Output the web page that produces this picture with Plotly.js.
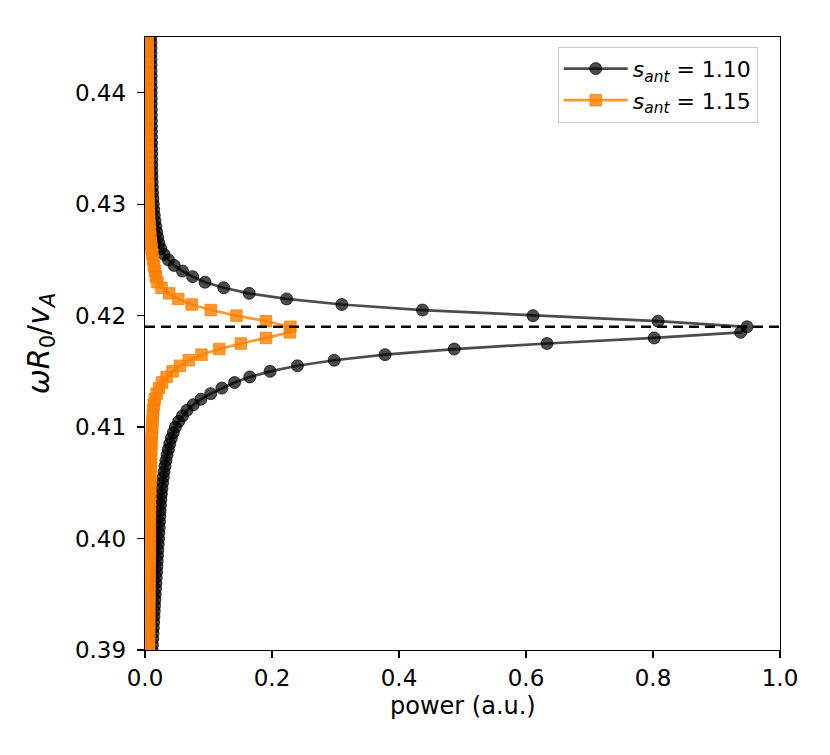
<!DOCTYPE html>
<html>
<head>
<meta charset="utf-8">
<script src="https://cdn.plot.ly/plotly-3.0.1.min.js"></script>
<style>
  html, body { margin: 0; padding: 0; background: #ffffff; }
  #plot { width: 830px; height: 755px; }
</style>
</head>
<body>
<div id="plot"></div>
<script>
// frequency scan, omega R0 / vA
const omega = [
  0.3900, 0.3905, 0.3910, 0.3915, 0.3920, 0.3925, 0.3930, 0.3935, 0.3940, 0.3945,
  0.3950, 0.3955, 0.3960, 0.3965, 0.3970, 0.3975, 0.3980, 0.3985, 0.3990, 0.3995,
  0.4000, 0.4005, 0.4010, 0.4015, 0.4020, 0.4025, 0.4030, 0.4035, 0.4040, 0.4045,
  0.4050, 0.4055, 0.4060, 0.4065, 0.4070, 0.4075, 0.4080, 0.4085, 0.4090, 0.4095,
  0.4100, 0.4105, 0.4110, 0.4115, 0.4120, 0.4125, 0.4130, 0.4135, 0.4140, 0.4145,
  0.4150, 0.4155, 0.4160, 0.4165, 0.4170, 0.4175, 0.4180, 0.4185, 0.4190, 0.4195,
  0.4200, 0.4205, 0.4210, 0.4215, 0.4220, 0.4225, 0.4230, 0.4235, 0.4240, 0.4245,
  0.4250, 0.4255, 0.4260, 0.4265, 0.4270, 0.4275, 0.4280, 0.4285, 0.4290, 0.4295,
  0.4300, 0.4305, 0.4310, 0.4315, 0.4320, 0.4325, 0.4330, 0.4335, 0.4340, 0.4345,
  0.4350, 0.4355, 0.4360, 0.4365, 0.4370, 0.4375, 0.4380, 0.4385, 0.4390, 0.4395,
  0.4400, 0.4405, 0.4410, 0.4415, 0.4420, 0.4425, 0.4430, 0.4435, 0.4440, 0.4445,
  0.4450
];

// power for s_ant = 1.10
const power110 = [
  0.0111, 0.0116, 0.0121, 0.0126, 0.0131, 0.0136, 0.0141, 0.0146, 0.0151, 0.0156,
  0.0161, 0.0166, 0.0171, 0.0177, 0.0182, 0.0187, 0.0192, 0.0197, 0.0202, 0.0208,
  0.0213, 0.0218, 0.0223, 0.0228, 0.0233, 0.0238, 0.0243, 0.0250, 0.0258, 0.0267,
  0.0277, 0.0288, 0.0300, 0.0315, 0.0330, 0.0348, 0.0368, 0.0390, 0.0415, 0.0445,
  0.0480, 0.0530, 0.0590, 0.0660, 0.0760, 0.0880, 0.1035, 0.1210, 0.1410, 0.1650,
  0.1970, 0.2400, 0.2980, 0.3780, 0.4870, 0.6330, 0.8020, 0.9380, 0.9480, 0.8080,
  0.6110, 0.4370, 0.3100, 0.2230, 0.1640, 0.1240, 0.0945, 0.0750, 0.0590, 0.0460,
  0.0370, 0.0300, 0.0250, 0.0220, 0.0200, 0.0184, 0.0170, 0.0157, 0.0146, 0.0137,
  0.0130, 0.0124, 0.0119, 0.0115, 0.0112, 0.0110, 0.0108, 0.0107, 0.0106, 0.0105,
  0.0104, 0.0103, 0.0102, 0.0101, 0.0100, 0.0100, 0.0099, 0.0099, 0.0098, 0.0098,
  0.0097, 0.0097, 0.0096, 0.0096, 0.0095, 0.0095, 0.0094, 0.0094, 0.0093, 0.0093,
  0.0092
];

// power for s_ant = 1.15
const power115 = [
  0.0063, 0.0063, 0.0064, 0.0064, 0.0065, 0.0065, 0.0066, 0.0066, 0.0067, 0.0067,
  0.0068, 0.0068, 0.0069, 0.0069, 0.0070, 0.0070, 0.0071, 0.0071, 0.0072, 0.0072,
  0.0073, 0.0073, 0.0074, 0.0074, 0.0075, 0.0076, 0.0077, 0.0078, 0.0079, 0.0080,
  0.0082, 0.0084, 0.0086, 0.0088, 0.0091, 0.0094, 0.0097, 0.0100, 0.0104, 0.0108,
  0.0112, 0.0117, 0.0122, 0.0128, 0.0137, 0.0155, 0.0184, 0.0220, 0.0270, 0.0340,
  0.0435, 0.0550, 0.0690, 0.0890, 0.1170, 0.1510, 0.1906, 0.2280, 0.2290, 0.1906,
  0.1440, 0.1035, 0.0735, 0.0525, 0.0380, 0.0260, 0.0195, 0.0170, 0.0155, 0.0140,
  0.0127, 0.0115, 0.0103, 0.0093, 0.0085, 0.0078, 0.0072, 0.0067, 0.0062, 0.0058,
  0.0055, 0.0052, 0.0050, 0.0049, 0.0048, 0.0047, 0.0046, 0.0046, 0.0045, 0.0045,
  0.0044, 0.0044, 0.0044, 0.0043, 0.0043, 0.0043, 0.0042, 0.0042, 0.0042, 0.0042,
  0.0041, 0.0041, 0.0041, 0.0041, 0.0041, 0.0040, 0.0040, 0.0040, 0.0040, 0.0040,
  0.0040
];

const seriesNames = [
  "<i>s</i><sub><i>ant</i></sub> = 1.10",
  "<i>s</i><sub><i>ant</i></sub> = 1.15"
];
const xLabel = "power (a.u.)";
const yLabel = "<i>ωR</i><sub>0</sub>/<i>v</i><sub><i>A</i></sub>";
const resonance = 0.419;   // dashed reference line
const xTicks = [0.0, 0.2, 0.4, 0.6, 0.8, 1.0];
const yTicks = [0.39, 0.40, 0.41, 0.42, 0.43, 0.44];

const font = "DejaVu Sans, Liberation Sans, sans-serif";
const black = "rgba(0,0,0,0.7)";
const orange = "rgba(255,127,0,0.8)";

function makeTrace(y, x, name, color, symbol, size){
    return {
        x: x,
        y: y,
        name: name,
        type: "scatter",
        mode: "lines+markers",
        line: {color: color, width: 2.7},
        marker: {color: color, symbol: symbol, size: size,
                 line: {color: color, width: 1}},
        cliponaxis: true
    };
}

var data = [
    makeTrace(omega, power110, seriesNames[0], black, "circle", 12),
    makeTrace(omega, power115, seriesNames[1], orange, "square", 11.5)
];

// axis settings shared by x and y
function axis(range, ticks, fmt){
    return {
        range: range,
        tickvals: ticks,
        ticktext: ticks.map(v => v.toFixed(fmt)),
        ticks: "outside",
        ticklen: 7,
        tickwidth: 1.3,
        tickcolor: "#000",
        showline: true,
        linecolor: "#000",
        linewidth: 1.3,
        mirror: true,
        showgrid: false,
        zeroline: false,
        tickfont: {family: font, size: 23, color: "#000"},
        automargin: false
    };
}

var xaxis = axis([0, 1], xTicks, 1);
var yaxis = axis([0.39, 0.445], yTicks, 2);
yaxis.ticklabelstandoff = 6;
yaxis.title = {text: yLabel, font: {family: font, size: 30, color: "#000"}, standoff: 16};

const layout = {
    width: 830,
    height: 755,
    margin: {l: 145, r: 50, t: 37, b: 105},
    paper_bgcolor: "#fff",
    plot_bgcolor: "#fff",
    font: {family: font, color: "#000"},
    xaxis: xaxis,
    yaxis: yaxis,
    showlegend: true,
    legend: {
        x: 0.650, y: 0.984, xanchor: "left", yanchor: "top",
        bgcolor: "rgba(255,255,255,0.8)",
        bordercolor: "#cccccc",
        borderwidth: 1,
        font: {family: font, size: 22, color: "#000"},
        itemwidth: 64,
        tracegroupgap: 0
    },
    // x label placed just under the tick labels
    annotations: [{
        text: xLabel,
        xref: "paper", yref: "paper", x: 0.5, y: 0,
        xanchor: "center", yanchor: "middle",
        yshift: -56,
        showarrow: false,
        font: {family: font, size: 24, color: "#000"}
    }],
    shapes: [{
        type: "line",
        xref: "paper", x0: 0, x1: 1,
        yref: "y", y0: resonance, y1: resonance,
        line: {color: "#000", width: 2.5, dash: "10px,6px"},
        layer: "above"
    }]
};

Plotly.newPlot("plot", data, layout, {displayModeBar: false, staticPlot: true});
</script>
</body>
</html>
